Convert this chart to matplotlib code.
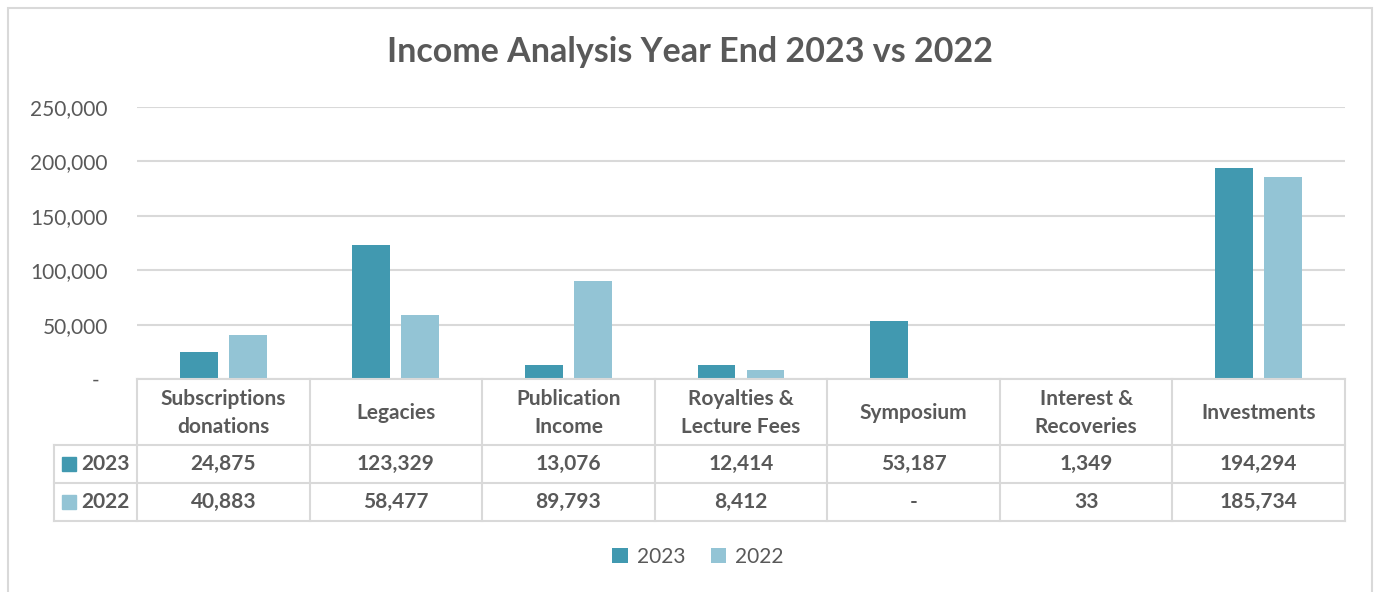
import matplotlib
matplotlib.use("Agg")
import matplotlib.pyplot as plt
from matplotlib.patches import Rectangle
from matplotlib.ticker import FixedLocator, FuncFormatter
import matplotlib.transforms as mtrans

plt.rcParams['font.family'] = ['Lato', 'DejaVu Sans']

categories = ["Subscriptions\ndonations", "Legacies", "Publication\nIncome",
              "Royalties &\nLecture Fees", "Symposium", "Interest &\nRecoveries",
              "Investments"]
series_names = ["2023", "2022"]
values_2023 = [24875, 123329, 13076, 12414, 53187, 1349, 194294]
values_2022 = [40883, 58477, 89793, 8412, 0, 33, 185734]
y_ticks = [0, 50000, 100000, 150000, 200000, 250000]

c2023 = "#4199B0"
c2022 = "#93C4D5"
text_c = "#595959"
grid_c = "#D9D9D9"

W, H = 1375, 592
fig = plt.figure(figsize=(W / 100, H / 100), dpi=100)

def fx(px):
    return px / W

def fy(py):
    return 1 - py / H

# outer chart frame
fig.patches.append(Rectangle((fx(8), fy(640)), fx(1372) - fx(8), fy(8) - fy(640),
                             transform=fig.transFigure, fill=False,
                             edgecolor=grid_c, linewidth=1.5))

# plot area
left_px, right_px, top_px, base_px = 137, 1345, 107, 379
ax = fig.add_axes([fx(left_px), fy(base_px), fx(right_px) - fx(left_px),
                   fy(top_px) - fy(base_px)])
n = len(categories)
ax.set_xlim(0, n)
ax.set_ylim(0, 250000)

bw = 0.22
off = 0.142
xs = [i + 0.5 for i in range(n)]
ax.bar([x - off for x in xs], values_2023, width=bw, color=c2023,
       linewidth=0, zorder=3, label=series_names[0])
ax.bar([x + off for x in xs], values_2022, width=bw, color=c2022,
       linewidth=0, zorder=3, label=series_names[1])

for s in ax.spines.values():
    s.set_visible(False)
ax.yaxis.set_major_locator(FixedLocator(y_ticks))
ax.yaxis.set_major_formatter(FuncFormatter(lambda v, p: "" if v == 0 else f"{int(v):,}"))
ax.tick_params(axis="y", length=0, pad=21, labelsize=15, labelcolor=text_c)
ax.set_xticks([])
ax.grid(axis="y", color=grid_c, linewidth=1.5, zorder=0)
ax.set_axisbelow(True)
# accounting-style dash for the zero tick
zero_tr = mtrans.blended_transform_factory(fig.transFigure, ax.transData) + \
    mtrans.ScaledTranslation(0, -2 / 100, fig.dpi_scale_trans)
ax.text(fx(96), 0, "-", transform=zero_tr, ha="center", va="center",
        fontsize=15, color=text_c)

# data table below the plot
tab_left, hdr_bottom, row1_bottom, row2_bottom = 54, 445, 483, 521
tax = fig.add_axes([fx(tab_left), fy(row2_bottom), fx(right_px) - fx(tab_left),
                    fy(base_px) - fy(row2_bottom)])
tax.set_xlim(tab_left, right_px)
tax.set_ylim(row2_bottom, base_px)
tax.axis("off")

lw = 1.5
col_w = (right_px - left_px) / n
col_edges = [left_px + i * col_w for i in range(n + 1)]
for yl, x0 in [(base_px, left_px), (hdr_bottom, tab_left),
               (row1_bottom, tab_left), (row2_bottom, tab_left)]:
    tax.plot([x0, right_px], [yl, yl], color=grid_c, lw=lw, clip_on=False,
             solid_capstyle="projecting")
for xe in col_edges:
    tax.plot([xe, xe], [base_px, row2_bottom], color=grid_c, lw=lw, clip_on=False)
tax.plot([tab_left, tab_left], [hdr_bottom, row2_bottom], color=grid_c, lw=lw,
         clip_on=False)

fs = 15
fmt = lambda v: "-" if v == 0 else f"{v:,}"
for i, cat in enumerate(categories):
    cx = left_px + (i + 0.5) * col_w
    tax.text(cx, (base_px + hdr_bottom) / 2 + 1, cat, ha="center", va="center",
             fontsize=fs, fontweight="bold", color=text_c, linespacing=1.45)
    tax.text(cx, (hdr_bottom + row1_bottom) / 2, fmt(values_2023[i]),
             ha="center", va="center", fontsize=fs, fontweight="bold",
             color=text_c)
    tax.text(cx, (row1_bottom + row2_bottom) / 2, fmt(values_2022[i]),
             ha="center", va="center", fontsize=fs, fontweight="bold",
             color=text_c)

for name, col, (ya, yb) in [(series_names[0], c2023, (hdr_bottom, row1_bottom)),
                            (series_names[1], c2022, (row1_bottom, row2_bottom))]:
    yc = (ya + yb) / 2
    tax.add_patch(Rectangle((62, yc - 7), 14, 14, color=col, clip_on=False))
    tax.text(81, yc, name, ha="left", va="center", fontsize=fs,
             fontweight="bold", color=text_c)

# title
fig.text(fx(690), fy(52), "Income Analysis Year End 2023 vs 2022", ha="center",
         va="center", fontsize=24.5, fontweight="bold", color=text_c)

# legend
leg = fig.legend(loc="center", bbox_to_anchor=(fx(698), fy(557)), ncol=2,
                 frameon=False, fontsize=15, handlelength=0.75, handleheight=0.75,
                 handletextpad=0.45, columnspacing=1.2, labelcolor=text_c)

fig.savefig("out.png", dpi=100)
